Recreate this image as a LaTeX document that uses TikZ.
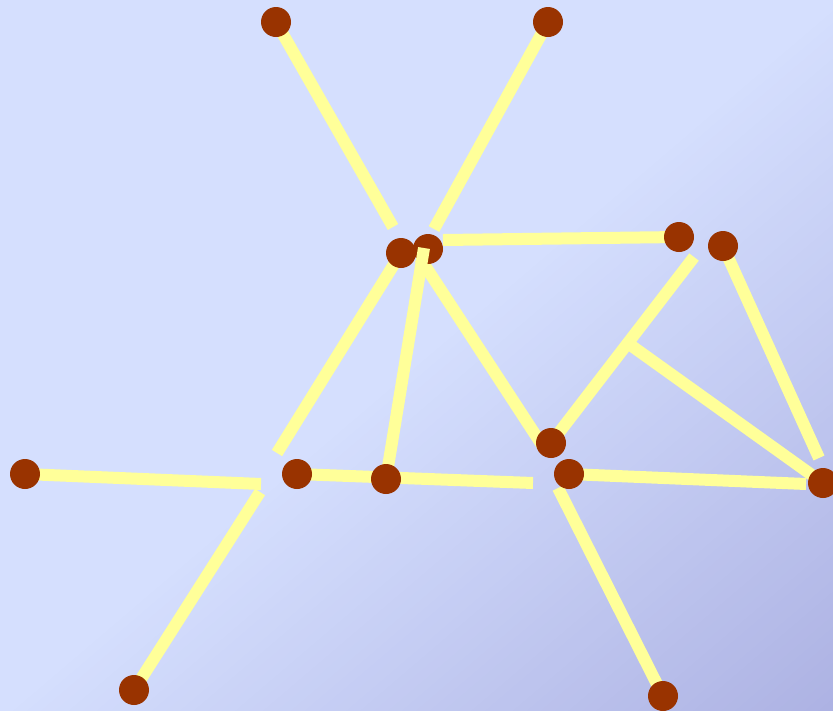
\documentclass[tikz,border=0pt]{standalone}
\definecolor{bgA}{HTML}{D5DFFE}
\definecolor{bgB}{HTML}{ADB2E3}
\definecolor{dotc}{HTML}{993300}
\definecolor{linec}{HTML}{FFFF99}
\tikzset{
  dotnode/.style={circle, fill=dotc, draw=none, minimum size=22.5pt, inner sep=0pt},
  edge/.style={draw=linec, line width=9pt, line cap=butt}
}
\begin{document}
\begin{tikzpicture}[x=0.75pt,y=-0.75pt]
% background: light upper-left half, linear darkening towards lower-right corner
\fill[bgA] (0,0) rectangle (833,711);
\begin{scope}
\clip (0,0) rectangle (833,711);
\foreach \i in {0,...,59}{
  \pgfmathsetmacro\ta{540.7+\i*9.0117}
  \pgfmathsetmacro\tb{\ta+9.7}
  \pgfmathsetmacro\pc{100*(\i+0.5)/60}
  \fill[bgB!\pc!bgA]
    (\ta*0.6492-608.5, \ta*0.7606+519.4) --
    (\ta*0.6492+608.5, \ta*0.7606-519.4) --
    (\tb*0.6492+608.5, \tb*0.7606-519.4) --
    (\tb*0.6492-608.5, \tb*0.7606+519.4) -- cycle;
}
\end{scope}
\useasboundingbox (0,0) rectangle (833,711);
% free ends
\coordinate (e1) at (393,227);
\coordinate (e2) at (434,229);
\coordinate (e3s) at (443,240);
\coordinate (e3t) at (679,237);
\coordinate (e4) at (277,453);
\coordinate (e5) at (424,248);
\coordinate (e6s) at (420,258);
\coordinate (e6t) at (544,448);
\coordinate (e7) at (694,257);
\coordinate (br) at (629,344);
\coordinate (e9) at (819,458);
\coordinate (e10) at (261,484);
\coordinate (e11) at (533,483);
\coordinate (e12) at (806,484);
\coordinate (e13) at (260,492);
\coordinate (e14) at (558,488);
% node positions
\path (276,22) coordinate (p1) (548,22) coordinate (p2) (401,253) coordinate (p3)
  (428,249) coordinate (p4) (679,237) coordinate (p5) (723,246) coordinate (p6)
  (551,443) coordinate (p7) (25,474) coordinate (p8) (297,474) coordinate (p9)
  (386,479) coordinate (p10) (569,474) coordinate (p11) (823,483) coordinate (p12)
  (134,690) coordinate (p13) (663,696) coordinate (p14);
% connectors
\draw[edge] (p1) -- (e1);
\draw[edge] (p2) -- (e2);
\draw[edge] (e3s) -- (e3t);
\draw[edge] (p3) -- (e4);
\draw[edge] (e6s) -- (e6t);
\draw[edge] (p7) -- (e7);
\draw[edge] (br) -- (p12);
\draw[edge] (p6) -- (e9);
\draw[edge] (p8) -- (e10);
\draw[edge] (p9) -- (e11);
\draw[edge] (p11) -- (e12);
\draw[edge] (e13) -- (p13);
\draw[edge] (e14) -- (p14);
% dots
\node[dotnode] (d1) at (p1) {};
\node[dotnode] (d2) at (p2) {};
\node[dotnode] (d3) at (p3) {};
\node[dotnode] (d4) at (p4) {};
\node[dotnode] (d5) at (p5) {};
\node[dotnode] (d6) at (p6) {};
\node[dotnode] (d7) at (p7) {};
\node[dotnode] (d8) at (p8) {};
\node[dotnode] (d9) at (p9) {};
\node[dotnode] (d11) at (p11) {};
\node[dotnode] (d12) at (p12) {};
\node[dotnode] (d13) at (p13) {};
\node[dotnode] (d14) at (p14) {};
\draw[edge] (e5) -- (p10);
\node[dotnode] (d10) at (p10) {};
\end{tikzpicture}
\end{document}
